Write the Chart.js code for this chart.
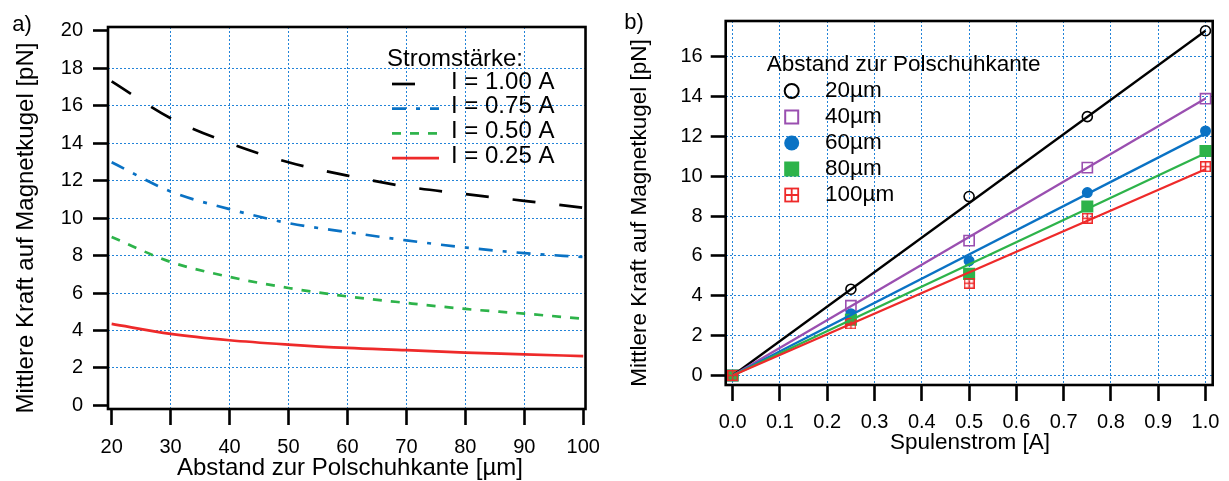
<!DOCTYPE html>
<html><head><meta charset="utf-8">
<script src="https://cdn.jsdelivr.net/npm/chart.js@4.4.1/dist/chart.umd.min.js"></script>
<style>
html,body{margin:0;padding:0;background:#fff;}
#wrap{position:relative;width:1229px;height:481px;background:#fff;}
#ca{position:absolute;left:0;top:0;}
#cb{position:absolute;left:610px;top:0;}
</style></head><body>
<div id="wrap"><canvas id="ca" width="610" height="481"></canvas><canvas id="cb" width="619" height="481"></canvas></div>
<script>
const FONT = '"Liberation Sans", Arial, Helvetica, sans-serif';

// ---------- Panel a) ----------
const distances = [20, 30, 40, 50, 60, 70, 80, 90, 100];
const force_I100 = [17.3, 15.33, 14.0, 12.98, 12.27, 11.68, 11.28, 10.92, 10.55];
const force_I075 = [12.98, 11.42, 10.48, 9.73, 9.25, 8.81, 8.43, 8.13, 7.92];
const force_I050 = [8.99, 7.66, 6.86, 6.27, 5.82, 5.47, 5.15, 4.9, 4.63];
const force_I025 = [4.35, 3.82, 3.48, 3.25, 3.07, 2.95, 2.82, 2.73, 2.63];
const currentLabels = ['I = 1.00 A', 'I = 0.75 A', 'I = 0.50 A', 'I = 0.25 A'];
const xTicksA = [20, 30, 40, 50, 60, 70, 80, 90, 100];
const yTicksA = [0, 2, 4, 6, 8, 10, 12, 14, 16, 18, 20];

// ---------- Panel b) ----------
const coilCurrent = [0, 0.25, 0.5, 0.75, 1.0];
const force_d20 = [0, 4.33, 8.98, 12.99, 17.3];
const force_d40 = [0, 3.5, 6.77, 10.43, 13.89];
const force_d60 = [0, 3.1, 5.75, 9.18, 12.27];
const force_d80 = [0, 2.8, 5.1, 8.48, 11.27];
const force_d100 = [0, 2.59, 4.63, 7.89, 10.48];
const fitSlopes = [17.3, 13.9, 12.15, 11.15, 10.35];
const distanceLabels = ['20µm', '40µm', '60µm', '80µm', '100µm'];
const xTicksB = [0.0, 0.1, 0.2, 0.3, 0.4, 0.5, 0.6, 0.7, 0.8, 0.9, 1.0];
const yTicksB = [0, 2, 4, 6, 8, 10, 12, 14, 16];

const GRID = '#2283d8';

function boxCross(size, color, lw) {
  const c = document.createElement('canvas');
  c.width = size; c.height = size;
  const g = c.getContext('2d');
  g.strokeStyle = color; g.lineWidth = lw;
  const h = lw / 2;
  g.strokeRect(h, h, size - lw, size - lw);
  g.beginPath();
  g.moveTo(size / 2, h); g.lineTo(size / 2, size - h);
  g.moveTo(h, size / 2); g.lineTo(size - h, size / 2);
  g.stroke();
  return c;
}

const framePlugin = {
  id: 'frame',
  afterDraw(chart) {
    const a = chart.chartArea, ctx = chart.ctx;
    ctx.save();
    ctx.strokeStyle = '#000'; ctx.lineWidth = 2.6;
    ctx.strokeRect(a.left, a.top, a.right - a.left, a.bottom - a.top);
    ctx.restore();
  }
};

function textPlugin(items) {
  return {
    id: 'texts',
    afterDraw(chart) {
      const ctx = chart.ctx;
      items.forEach(t => {
        ctx.save();
        ctx.font = t.size + 'px ' + FONT;
        ctx.fillStyle = '#000';
        ctx.textAlign = t.align || 'center';
        ctx.textBaseline = 'middle';
        ctx.translate(t.x, t.y);
        if (t.rot) ctx.rotate(t.rot);
        ctx.fillText(t.text, 0, 0);
        ctx.restore();
      });
    }
  };
}

function axisCommon(ticksArr, fmt, tickLen, pad, boundVals) {
  return {
    type: 'linear',
    afterBuildTicks: s => { s.ticks = ticksArr.map(v => ({ value: v })); },
    border: { display: false, dash: [2, 2] },
    grid: {
      color: c => (c.tick && boundVals.includes(c.tick.value)) ? 'rgba(0,0,0,0)' : GRID,
      lineWidth: 1,
      drawTicks: true, tickLength: tickLen, tickColor: '#000', tickWidth: 2.6, tickBorderDash: []
    },
    ticks: {
      autoSkip: false, maxRotation: 0, minRotation: 0, color: '#000', padding: pad,
      font: { size: 20, family: FONT },
      callback: fmt
    }
  };
}

// ---------- Chart a ----------
const seriesA = [force_I100, force_I075, force_I050, force_I025];
const stylesA = [
  { color: '#000000', dash: [23, 24] },
  { color: '#0a72c4', dash: [14, 10, 4, 10] },
  { color: '#2db34a', dash: [9, 9] },
  { color: '#ee2a2a', dash: [] }
];
const dsA = seriesA.map((vals, i) => ({
  label: currentLabels[i],
  data: distances.map((d, j) => ({ x: d, y: vals[j] })),
  borderColor: stylesA[i].color,
  borderDash: stylesA[i].dash,
  borderWidth: 2.7,
  pointRadius: 0,
  fill: false,
  cubicInterpolationMode: 'monotone'
}));

const legendA = {
  id: 'legendA',
  afterDraw(chart) {
    const ctx = chart.ctx;
    ctx.save();
    ctx.font = '24px ' + FONT;
    ctx.fillStyle = '#000';
    ctx.textBaseline = 'middle';
    ctx.textAlign = 'left';
    ctx.fillText('Stromstärke:', 387, 59);
    chart.data.datasets.forEach((ds, i) => {
      const y = 82 + i * 24.7;
      ctx.save();
      ctx.strokeStyle = ds.borderColor; ctx.lineWidth = 2.7;
      ctx.setLineDash(ds.borderDash);
      ctx.beginPath(); ctx.moveTo(392, y + 2); ctx.lineTo(439, y + 2); ctx.stroke();
      ctx.restore();
      ctx.fillText(ds.label, 451, y);
    });
    ctx.restore();
  }
};

const xA = axisCommon(xTicksA, v => String(v), 16, 10, [20, 100]);
xA.min = 19.38; xA.max = 100.39;
xA.afterFit = s => { s.height = 72; };
const yA = axisCommon(yTicksA, v => String(v), 15, 10, [0, 20]);
yA.min = -0.19; yA.max = 20.2;
yA.afterFit = s => { s.width = 108; };

new Chart(document.getElementById('ca'), {
  type: 'line',
  data: { datasets: dsA },
  options: {
    responsive: false, animation: false, devicePixelRatio: 1,
    layout: { padding: { left: 0, right: 20, top: 27, bottom: 0 } },
    plugins: { legend: { display: false }, tooltip: { enabled: false } },
    scales: { x: xA, y: yA }
  },
  plugins: [framePlugin, legendA, textPlugin([
    { text: 'a)', x: 22, y: 25, size: 22 },
    { text: 'Mittlere Kraft auf Magnetkugel [pN]', x: 26, y: 228, size: 24, rot: -Math.PI / 2 },
    { text: 'Abstand zur Polschuhkante [µm]', x: 350, y: 468, size: 24 }
  ])]
});

// ---------- Chart b ----------
const seriesB = [force_d20, force_d40, force_d60, force_d80, force_d100];
const colorsB = ['#000000', '#9a4fb0', '#0a72c4', '#2db34a', '#ee2a2a'];
const markerB = [
  { style: 'circle', r: 5, fill: false },
  { style: 'rect', r: 7.2, fill: false },
  { style: 'circle', r: 4.7, fill: true },
  { style: 'rect', r: 7.4, fill: true },
  { style: boxCross(11, '#ee2a2a', 1.5), r: 5.5, fill: false }
];
const dsB = [];
seriesB.forEach((vals, i) => {
  dsB.push({
    label: distanceLabels[i] + ' fit',
    data: [{ x: coilCurrent[0], y: 0 }, { x: coilCurrent[coilCurrent.length - 1], y: fitSlopes[i] }],
    borderColor: colorsB[i], borderWidth: 2.3, pointRadius: 0, showLine: true, fill: false,
    order: 5 - i
  });
});
seriesB.forEach((vals, i) => {
  dsB.push({
    label: distanceLabels[i],
    data: coilCurrent.map((c, j) => ({ x: c, y: vals[j] })),
    showLine: false,
    pointStyle: markerB[i].style,
    pointRadius: markerB[i].r,
    pointBorderWidth: 1.6,
    pointBorderColor: colorsB[i],
    pointBackgroundColor: markerB[i].fill ? colorsB[i] : 'rgba(0,0,0,0)',
    order: 10 - i
  });
});

const legendB = {
  id: 'legendB',
  afterDraw(chart) {
    const ctx = chart.ctx;
    ctx.save();
    ctx.font = '22.5px ' + FONT;
    ctx.fillStyle = '#000';
    ctx.textBaseline = 'middle';
    ctx.textAlign = 'left';
    ctx.fillText('Abstand zur Polschuhkante', 156.7, 65);
    const mx = 181.7;
    distanceLabels.forEach((lab, i) => {
      const y = 91 + i * 26;
      const col = colorsB[i];
      ctx.save();
      ctx.strokeStyle = col; ctx.fillStyle = col; ctx.lineWidth = 2;
      if (i === 0) { ctx.beginPath(); ctx.arc(mx, y, 7, 0, Math.PI * 2); ctx.stroke(); }
      else if (i === 1) { ctx.strokeRect(mx - 6.5, y - 6.5, 13, 13); }
      else if (i === 2) { ctx.beginPath(); ctx.arc(mx, y, 7.5, 0, Math.PI * 2); ctx.fill(); }
      else if (i === 3) { ctx.fillRect(mx - 7.5, y - 7.5, 15, 15); }
      else {
        ctx.lineWidth = 1.8;
        ctx.strokeRect(mx - 6.5, y - 6.5, 13, 13);
        ctx.beginPath(); ctx.moveTo(mx, y - 6.5); ctx.lineTo(mx, y + 6.5);
        ctx.moveTo(mx - 6.5, y); ctx.lineTo(mx + 6.5, y); ctx.stroke();
      }
      ctx.restore();
      ctx.fillText(lab, 215, y);
    });
    ctx.restore();
  }
};

const xB = axisCommon(xTicksB, v => v.toFixed(1), 16, 9, []);
xB.min = -0.0148; xB.max = 1.0152;
xB.afterFit = s => { s.height = 96; };
const yB = axisCommon(yTicksB, v => String(v), 15, 8, []);
yB.min = -0.477; yB.max = 17.79;
yB.afterFit = s => { s.width = 115.7; };

new Chart(document.getElementById('cb'), {
  type: 'scatter',
  data: { datasets: dsB },
  options: {
    responsive: false, animation: false, devicePixelRatio: 1,
    layout: { padding: { left: 0, right: 16.3, top: 21, bottom: 0 } },
    plugins: { legend: { display: false }, tooltip: { enabled: false } },
    scales: { x: xB, y: yB }
  },
  plugins: [framePlugin, legendB, textPlugin([
    { text: 'b)', x: 24, y: 23, size: 22 },
    { text: 'Mittlere Kraft auf Magnetkugel [pN]', x: 30, y: 213, size: 22.5, rot: -Math.PI / 2 },
    { text: 'Spulenstrom [A]', x: 360, y: 443, size: 22.5 }
  ])]
});
</script>
</body></html>
